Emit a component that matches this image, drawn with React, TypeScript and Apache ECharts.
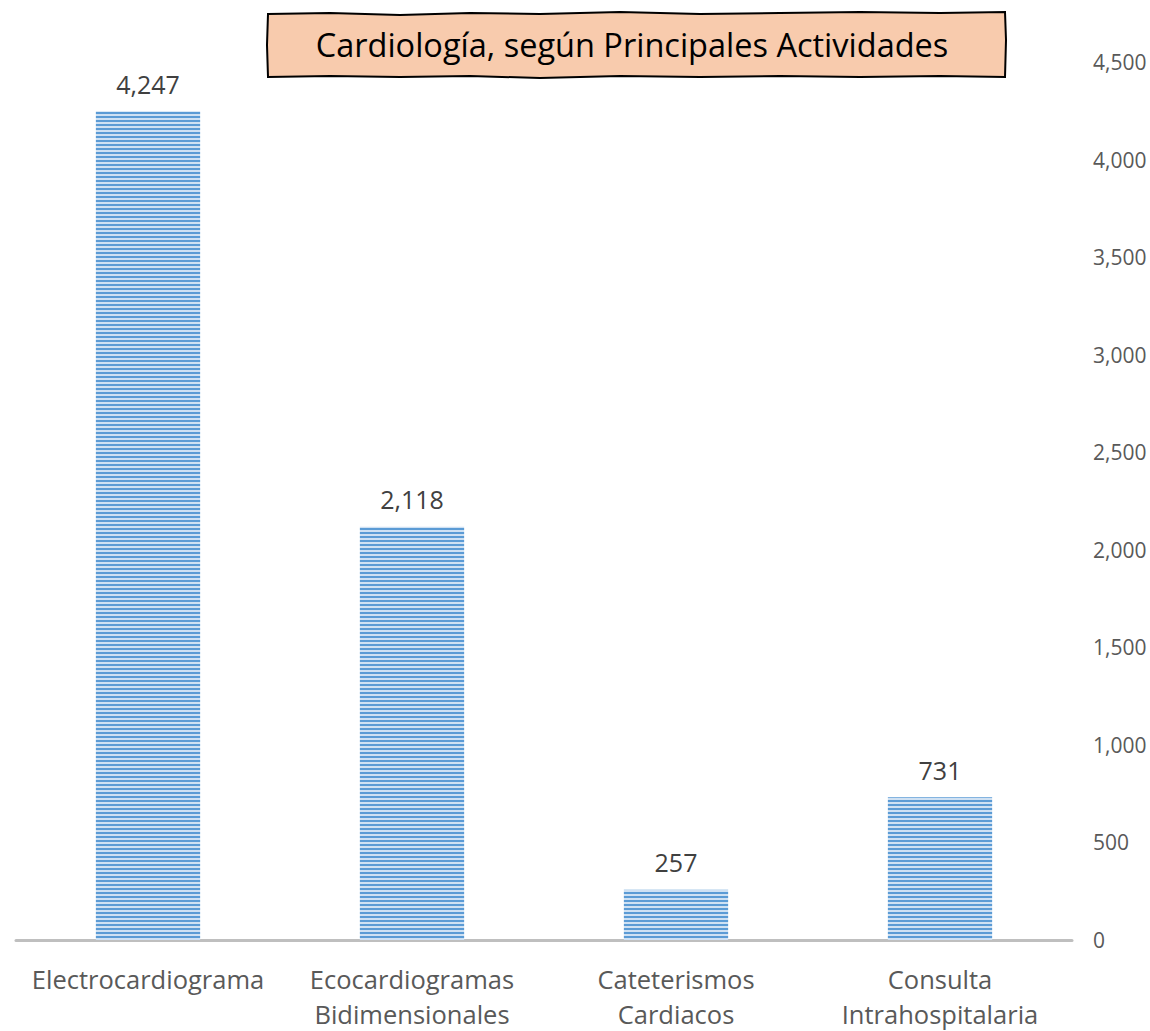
import React, { useEffect, useRef } from "react";
import * as echarts from "echarts";

const categories = [
  "Electrocardiograma",
  "Ecocardiogramas\nBidimensionales",
  "Cateterismos\nCardiacos",
  "Consulta\nIntrahospitalaria",
];
const values = [4247, 2118, 257, 731];
const titleText = "Cardiología, según Principales Actividades";
const yMax = 4500;
const yInterval = 500;

function makeStripePattern(): HTMLCanvasElement {
  const c = document.createElement("canvas");
  c.width = 8;
  c.height = 4;
  const ctx = c.getContext("2d")!;
  ctx.fillStyle = "#cfe1f3";
  ctx.fillRect(0, 0, 8, 4);
  ctx.fillStyle = "#5b9bd5";
  ctx.fillRect(0, 0, 8, 2);
  return c;
}

export default function App() {
  const ref = useRef<HTMLDivElement>(null);
  useEffect(() => {
    document.body.style.margin = "0";
    const chart = echarts.init(ref.current!, null, { renderer: "svg" });
    const font = "'Open Sans', 'Noto Sans', sans-serif";
    const pattern = makeStripePattern();
    const border = [
      [268, 14], [330, 13], [400, 15], [470, 13], [540, 14], [620, 12], [700, 14],
      [780, 13], [860, 12], [940, 13], [1005, 12],
      [1006, 40], [1005, 77],
      [940, 76], [860, 77], [780, 76], [700, 77], [620, 76], [540, 78], [470, 76],
      [400, 77], [330, 76], [268, 77],
      [267, 45], [268, 14],
    ];
    chart.setOption({
      animation: false,
      backgroundColor: "#ffffff",
      grid: { left: 16, right: 78, top: 62, bottom: 87, containLabel: false },
      xAxis: {
        type: "category",
        data: categories,
        axisLine: { show: true, lineStyle: { color: "#bfbfbf", width: 3 } },
        axisTick: { show: false },
        axisLabel: {
          color: "#595959",
          fontFamily: font,
          fontSize: 25.5,
          lineHeight: 35,
          margin: 21,
          interval: 0,
        },
      },
      yAxis: {
        type: "value",
        position: "right",
        min: 0,
        max: yMax,
        interval: yInterval,
        axisLine: { show: false },
        axisTick: { show: false },
        splitLine: { show: false },
        axisLabel: {
          color: "#595959",
          fontFamily: font,
          fontSize: 21,
          margin: 21,
        },
      },
      series: [
        {
          type: "bar",
          data: values,
          barWidth: "39.5%",
          itemStyle: {
            color: { image: pattern, repeat: "repeat" },
          },
          label: {
            show: true,
            position: "top",
            distance: 15,
            color: "#404040",
            fontFamily: font,
            fontSize: 25,
            formatter: (p: any) => Number(p.value).toLocaleString("en-US"),
          },
        },
      ],
      graphic: [
        {
          type: "polygon",
          shape: { points: border },
          style: { fill: "#f8cbad", stroke: "#000000", lineWidth: 2 },
          z: 10,
        },
        {
          type: "text",
          x: 632,
          y: 44,
          style: {
            text: titleText,
            fontFamily: font,
            fontSize: 32.5,
            fill: "#000000",
            align: "center",
            verticalAlign: "middle",
          },
          z: 11,
        },
      ],
    });
    return () => chart.dispose();
  }, []);
  return <div ref={ref} style={{ width: 1150, height: 1031 }} />;
}
